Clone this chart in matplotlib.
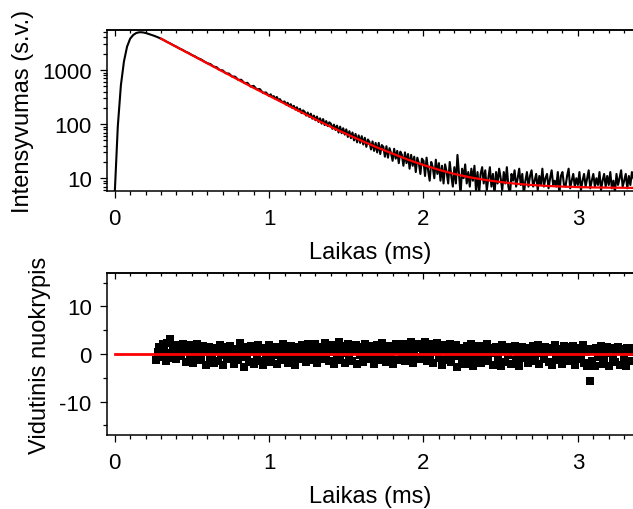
import numpy as np
import matplotlib
matplotlib.use("Agg")
import matplotlib.pyplot as plt
from matplotlib.ticker import FixedLocator, LogLocator, NullFormatter

plt.rcParams["font.family"] = ["Liberation Sans", "DejaVu Sans"]
plt.rcParams["font.size"] = 16
plt.rcParams["axes.unicode_minus"] = False

# measured decay: every 0.02 ms up to 0.98 ms, then every 0.01 ms to 3.36 ms
t_meas = np.concatenate([np.round(np.arange(0, 0.99, 0.02), 2),
                         np.round(np.arange(1.0, 3.361, 0.01), 2)])
i_meas = [
    # 0.00 - 0.98 (step 0.02)
    5, 90, 520, 1450, 2700, 3800, 4450, 4850, 5000, 4980,
    4850, 4650, 4450, 4250, 4030, 3800, 3560, 3300, 3100, 2870,
    2700, 2500, 2360, 2180, 2060, 1900, 1790, 1650, 1570, 1440,
    1340, 1290, 1160, 1130, 1000, 985, 870, 860, 760, 755,
    660, 660, 575, 580, 495, 510, 440, 445, 380, 385,
    # 1.00 - 3.36 (step 0.01)
    332, 356, 315, 330, 292, 318, 276, 290, 262, 258,
    262, 230, 248, 214, 234, 200, 218, 186, 205, 174,
    192, 160, 180, 170, 144, 164, 136, 156, 126, 144,
    118, 138, 110, 128, 102, 124, 96, 114, 92, 108,
    102, 82, 98, 78, 94, 70, 90, 68, 84, 64,
    80, 58, 74, 55, 70, 50, 66, 46, 62, 45,
    60, 42, 56, 38, 52, 47, 34, 48, 32, 45,
    30, 45, 28, 41, 38, 25, 39, 24, 36, 29,
    21, 35, 23, 32, 19, 31, 27, 17, 30, 19,
    28, 15, 27, 17, 25, 13, 24, 19, 12, 23,
    21, 11, 24, 14, 9, 20, 16, 10, 22, 12,
    19, 9, 17, 8, 18, 13, 8, 20, 11, 7,
    16, 8, 27, 12, 5, 15, 10, 18, 8, 13,
    7, 15, 9, 17, 6, 13, 5, 12, 16, 8,
    14, 6, 10, 16, 7, 12, 5, 13, 8, 15,
    10, 6, 13, 8, 16, 7, 5, 12, 9, 14,
    7, 10, 15, 7.5, 12, 5, 9, 13, 7, 11,
    14, 7, 9, 12, 6, 11, 7.5, 15, 7, 10,
    12, 6.5, 10, 14, 7.5, 9, 7, 13, 5, 11,
    13, 7.5, 7, 11, 15, 6.5, 9, 12, 7, 10,
    7.5, 13, 6, 9, 12, 7, 10, 14, 6.5, 9,
    12, 7, 10, 7.5, 13, 6, 9, 12, 7, 11,
    7.5, 13, 6.5, 9, 5.5, 12, 7.5, 10, 14, 7,
    9, 12, 6.5, 11, 7.5, 13, 10,
]

# fitted curve
t_fit = [0.3, 0.4, 0.5, 0.6, 0.7, 0.8, 0.9, 1.0, 1.1, 1.2, 1.3, 1.4, 1.5,
         1.6, 1.7, 1.8, 1.9, 2.0, 2.1, 2.2, 2.3, 2.4, 2.5, 2.6, 2.7, 2.8,
         2.9, 3.0, 3.1, 3.2, 3.3, 3.4]
i_fit = [3800, 2677, 1887, 1330, 939, 663, 468, 335, 240, 171, 123, 89, 66,
         49, 37, 28.5, 22, 17.5, 14.3, 12, 10.4, 9.3, 8.5, 7.9, 7.5, 7.2,
         7.0, 6.85, 6.75, 6.7, 6.65, 6.6]

# weighted residuals (every 0.01 ms from 0.27 to 3.36 ms)
t_res = np.round(np.arange(0.27, 3.361, 0.01), 2)
res = [
    -1.2, 0.4, 1.5, -0.6, 2.0, 0.9, -1.4, 2.4, 0.2, 3.2,
    -0.8, 1.6, 0.3, -1.1, 1.9, 0.7, -0.4, 2.2, 1.0, -1.6,
    0.6, 1.8, -0.9, 1.3, -1.8, 0.1, 2.1, -0.5, 1.1, -1.3,
    1.7, 0.5, -2.3, 0.9, 1.4, -0.7, 0.2, -1.9, 1.2, 0.6,
    -1.5, 1.9, -0.2, -2.4, 0.8, 1.5, -1.1, 0.3, 1.7, -0.8,
    -2.0, 1.1, 0.4, -1.3, 2.3, -0.6, 0.9, -2.7, 1.4, 0.0,
    -1.7, 1.6, 0.5, -2.2, 1.0, -0.4, 1.8, -1.5, 0.7, -2.4,
    1.3, -0.9, 0.2, 1.9, -1.6, 0.8, -0.3, 1.5, -2.0, 1.1,
    0.4, -1.2, 2.1, -0.5, 1.0, -1.9, 0.6, 1.7, -0.8, 0.3,
    -2.3, 1.4, 0.1, -1.0, 1.8, -0.6, 0.9, -1.7, 2.0, 0.5,
    -1.3, 1.2, -0.2, 2.2, -1.8, 0.7, 1.5, -1.0, 0.3, 2.4,
    -0.7, 1.0, -1.5, 1.9, 0.4, -2.1, 1.3, -0.4, 2.6, -1.2,
    0.8, 1.6, -1.9, 0.2, 2.0, -0.9, 1.2, -1.4, 0.6, 1.8,
    -2.2, 0.9, -0.3, 1.4, -1.6, 2.1, 0.5, -1.1, 1.7, -0.6,
    1.0, -2.0, 0.3, 1.9, -1.3, 0.7, 2.3, -0.8, 1.2, -1.7,
    0.4, 1.6, -0.5, -2.1, 1.1, 2.0, -1.2, 0.6, 1.4, -0.9,
    2.2, -1.5, 0.8, 1.7, -0.2, 2.5, -1.8, 0.5, 1.3, -0.7,
    2.0, -1.1, 1.5, 0.3, 2.6, -1.4, 0.9, -0.4, 2.1, -1.9,
    1.2, 0.4, 2.3, -0.8, 1.6, -2.4, 0.7, 1.9, -1.2, 0.2,
    2.1, -1.6, 1.0, -0.5, 1.8, -2.8, 0.6, 1.3, -1.0, 0.9,
    -2.0, 1.7, 0.3, -1.3, 2.2, -2.6, 1.1, 0.5, -0.9, 1.6,
    -1.8, 0.8, 1.4, -0.6, 2.0, -1.4, 0.2, 1.2, -2.3, 0.7,
    1.5, -1.1, 0.4, -2.5, 1.8, 0.9, -1.6, 1.1, -0.3, 1.4,
    -2.1, 0.6, 1.7, -1.2, 0.3, -2.6, 1.0, 1.5, -0.8, 0.5,
    1.3, -1.9, 0.8, -0.4, 1.6, -1.5, 0.2, 1.9, -2.2, 0.7,
    1.1, -1.0, 1.5, 0.4, -1.7, 1.2, -2.3, 0.6, 1.8, -0.6,
    -1.3, 1.0, 0.3, -2.0, 1.6, -0.8, 0.9, 1.4, -1.5, 0.2,
    1.7, -2.4, 0.6, -1.1, 1.2, -0.5, 1.9, -1.8, 0.4, -2.6,
    1.0, -5.6, -1.4, 0.8, -2.5, 1.3, -0.7, 0.5, 1.6, -2.0,
    -1.1, 0.9, 1.5, -2.6, 0.3, 1.2, -0.9, -1.7, 0.7, 1.4,
    -2.3, 0.6, 1.1, -1.0, -2.5, 1.3, 0.4, -1.4, 0.8, 1.2,
]
t_zero = [0.0, 3.4]
zero = [0, 0]

XLIM = (-0.05, 3.357)


def style(ax):
    ax.set_xlim(*XLIM)
    ax.spines["right"].set_visible(False)
    ax.xaxis.set_major_locator(FixedLocator([0, 1, 2, 3]))
    ax.xaxis.set_minor_locator(FixedLocator(np.arange(0, 3.41, 0.1)))
    ax.tick_params(which="both", direction="out", top=False, right=False,
                   width=0.9, colors="black")
    ax.tick_params(which="major", length=5)
    ax.tick_params(which="minor", length=3)
    ax.tick_params(axis="x", which="major", pad=7)
    ax.tick_params(axis="y", which="major", pad=6)
    top = ax.secondary_xaxis("top")
    top.xaxis.set_major_locator(FixedLocator([0, 1, 2, 3]))
    top.xaxis.set_minor_locator(FixedLocator(np.arange(0, 3.41, 0.1)))
    top.tick_params(which="both", direction="in", labeltop=False, width=0.9)
    top.tick_params(which="major", length=4)
    top.tick_params(which="minor", length=2.5)
    for s in ax.spines.values():
        s.set_linewidth(1.1)
    top.spines["top"].set_linewidth(1.1)


fig = plt.figure(figsize=(6.33, 5.10), dpi=100)
ax1 = fig.add_axes([0.169, 0.6235, 0.831, 0.3157])
ax2 = fig.add_axes([0.169, 0.1451, 0.831, 0.3176])

# Top: decay + fit
ax1.plot(t_meas, i_meas, color="black", lw=1.5)
ax1.plot(t_fit, i_fit, color="#ff0000", lw=1.6)
ax1.set_yscale("log")
ax1.set_ylim(5.8, 5500)
ax1.yaxis.set_major_locator(FixedLocator([10, 100, 1000]))
ax1.set_yticklabels(["10", "100", "1000"])
ax1.yaxis.set_minor_locator(LogLocator(base=10, subs=np.arange(2, 10)))
ax1.yaxis.set_minor_formatter(NullFormatter())
style(ax1)
ax1.set_xlabel("Laikas (ms)", fontsize=17, labelpad=9)
ax1.set_ylabel("Intensyvumas (s.v.)", fontsize=17, labelpad=6)

# Bottom: residuals
ax2.plot(t_res, res, "s", color="black", ms=6.0, mew=0)
ax2.plot(t_zero, zero, color="#ff0000", lw=2)
ax2.set_ylim(-17, 17)
ax2.yaxis.set_major_locator(FixedLocator([-10, 0, 10]))
ax2.yaxis.set_minor_locator(FixedLocator([-15, -5, 5, 15]))
style(ax2)
ax2.set_xlabel("Laikas (ms)", fontsize=17, labelpad=9)
ax2.set_ylabel("Vidutinis nuokrypis", fontsize=17, labelpad=6)

fig.savefig("out.png", dpi=100)
